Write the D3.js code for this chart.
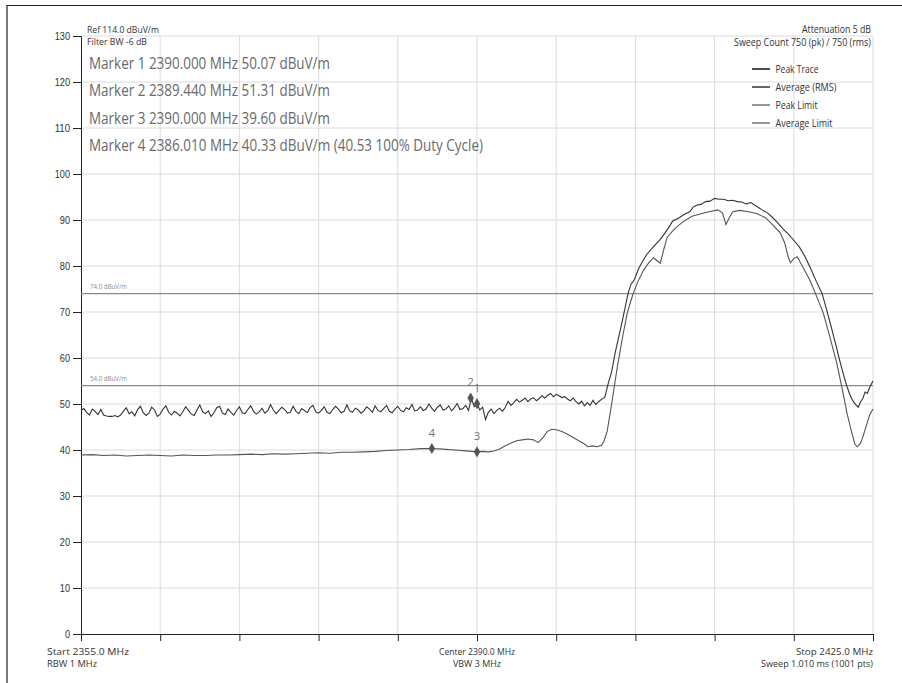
<!DOCTYPE html>
<html>
<head>
<meta charset="utf-8">
<script src="https://cdn.jsdelivr.net/npm/d3@7"></script>
<style>
  html, body { margin: 0; padding: 0; background: #fff; }
  svg { display: block; font-family: "Open Sans", "Noto Sans", sans-serif; }
</style>
</head>
<body>
<div id="chart"></div>
<script>
const yTicks = [0, 10, 20, 30, 40, 50, 60, 70, 80, 90, 100, 110, 120, 130];
const xTicks = [2355, 2362, 2369, 2376, 2383, 2390, 2397, 2404, 2411, 2418, 2425];

// peak trace, noise floor part: 0.25 MHz steps from 2355 MHz
const peakStart = 2355, peakStep = 0.25;
const peakFloor = [
  48.6, 49.0, 48.2, 47.6, 48.9, 48.4, 47.7, 48.8, 47.6, 47.4, 47.3, 47.3, 47.5, 47.2, 47.6, 48.4, 49.2, 47.9, 48.3, 47.4,
  48.8, 49.5, 48.1, 47.5, 48.0, 49.3, 48.7, 47.3, 47.8, 48.9, 49.6, 48.2, 47.6, 48.4, 48.0, 47.4, 48.3, 49.4, 48.6, 47.8,
  47.5, 48.7, 49.8, 48.3, 47.9, 48.5, 47.3, 48.1, 49.2, 49.5, 48.0, 47.7, 48.9, 48.2, 47.6, 48.6, 49.4, 48.1, 47.9, 48.8,
  49.6, 48.4, 47.8, 48.3, 49.1, 48.0, 48.5, 49.9, 48.7, 47.9, 48.6, 49.3, 48.8, 48.0, 48.2, 49.5, 48.4, 47.9, 49.0, 48.6,
  48.1, 49.2, 49.7, 48.3, 48.0, 48.6, 49.4, 48.2, 47.9, 48.8, 49.5, 48.9, 48.1, 48.4, 49.8, 48.5, 48.2, 49.1, 48.7, 48.0,
  48.5, 49.4, 48.9, 48.2, 49.6, 48.6, 48.3, 49.0, 49.7, 48.4, 48.1, 48.9, 49.5, 48.6, 48.3, 49.2, 48.8, 49.9, 48.5, 48.7,
  49.4, 48.6, 48.9, 50.0, 49.1, 48.4, 49.3, 49.8, 48.7, 48.9, 49.6, 48.5, 49.2, 50.1, 48.8, 49.0, 49.7, 48.6, 51.3, 49.4,
  50.1, 48.7, 49.3, 46.6, 48.2, 48.9, 47.9, 48.6, 49.1, 48.4, 49.3, 50.6, 49.7, 50.3, 51.0, 50.4, 50.8, 51.3, 50.5, 51.1,
  51.4, 50.7, 51.2, 51.8, 51.3, 51.9, 52.3, 51.6, 52.1, 51.8, 51.4, 51.6, 51.1, 50.7, 51.3, 50.5, 50.0, 50.6, 49.6, 50.3,
  49.7, 50.8, 49.9, 50.5, 51.0
];

// peak trace, emission part
const peakLobeFreq = [
  2401.3, 2401.6, 2401.9, 2402.2, 2402.8, 2403.35, 2403.6, 2403.9, 2404.3, 2404.7, 2405.0, 2405.6, 2406.2, 2406.8,
  2407.3, 2407.8, 2408.3, 2408.8, 2409.1, 2409.4, 2409.8, 2410.2, 2410.6, 2411.0, 2411.4, 2411.8, 2412.2, 2412.6,
  2413.0, 2413.4, 2413.8, 2414.2, 2414.7, 2415.2, 2415.7, 2416.1, 2416.5, 2417.0, 2417.5, 2418.0, 2418.5, 2419.0,
  2419.5, 2420.0, 2420.5, 2420.9, 2421.3, 2421.7, 2422.0, 2422.3, 2422.6, 2422.9, 2423.1, 2423.3, 2423.5, 2423.7,
  2423.9, 2424.1, 2424.3, 2424.5, 2424.7, 2424.85, 2425.0
];
const peakLobe = [
  51.5, 54.5, 57.0, 61.0, 67.6, 74.0, 76.0, 77.0, 79.5, 81.3, 82.5, 84.2, 85.8, 87.8,
  89.8, 90.4, 91.2, 91.8, 92.8, 93.2, 93.4, 94.0, 94.1, 94.7, 94.5, 94.5, 94.2, 94.3,
  94.0, 93.9, 93.5, 93.8, 93.0, 92.2, 91.5, 90.6, 89.6, 88.2, 87.0, 85.6, 84.1, 82.0,
  79.4, 76.6, 74.0, 70.5, 66.8, 63.0, 60.0, 57.2, 54.6, 52.4, 51.2, 50.4, 49.8, 49.3,
  50.5, 51.2, 52.6, 52.3, 53.6, 54.3, 55.0
];

// average (RMS) trace
const avgFreq = [
  2355, 2356, 2357, 2358, 2359, 2360, 2361, 2362, 2363, 2364, 2365, 2366, 2367, 2368, 2369, 2370,
  2371, 2372, 2373, 2374, 2375, 2376, 2377, 2378, 2379, 2380, 2381, 2382, 2383, 2384, 2385, 2386.01,
  2387, 2388, 2389, 2390, 2390.5, 2391, 2391.5, 2392, 2392.5, 2393, 2393.5, 2394, 2394.5, 2395,
  2395.4, 2395.8, 2396.2, 2396.6, 2397.0, 2397.5, 2398, 2398.5, 2399, 2399.5, 2399.8, 2400.2, 2400.6,
  2401.0, 2401.2, 2401.5, 2401.9, 2402.4, 2402.9, 2403.3, 2403.8, 2404.2, 2404.7, 2405.2, 2405.6,
  2405.9, 2406.2, 2406.5, 2406.8, 2407.5, 2408.2, 2409, 2410.3, 2411.3, 2411.7, 2412.0, 2412.3,
  2412.6, 2413.2, 2414, 2414.7, 2415.5, 2416.2, 2416.8, 2417.2, 2417.5, 2417.7, 2418.0, 2418.3,
  2418.8, 2419.4, 2420.0, 2420.6, 2421.2, 2421.8, 2422.3, 2422.7, 2423.1, 2423.4, 2423.6, 2423.9,
  2424.1, 2424.4, 2424.7, 2425
];
const avgVal = [
  38.9, 39.0, 38.8, 38.9, 38.7, 38.8, 38.9, 38.8, 38.7, 38.9, 38.8, 38.8, 38.9, 38.9, 39.0, 39.1,
  39.0, 39.2, 39.1, 39.2, 39.3, 39.4, 39.3, 39.5, 39.5, 39.6, 39.7, 39.9, 40.0, 40.1, 40.3, 40.33,
  40.2, 40.0, 39.8, 39.6, 39.7, 39.6, 39.8, 40.2, 40.9, 41.5, 42.0, 42.2, 42.4, 42.2,
  41.6, 42.6, 44.0, 44.5, 44.4, 44.0, 43.4, 42.7, 42.0, 41.3, 40.7, 40.9, 40.7,
  41.0, 41.8, 44.0, 50.0, 58.0, 65.0, 70.0, 74.0, 76.5, 79.0, 80.8, 81.8,
  81.2, 80.6, 83.5, 86.2, 88.2, 89.6, 90.8, 91.7, 92.2, 91.5, 89.0, 90.5,
  91.8, 92.1, 91.8, 91.4, 90.5, 88.8, 87.2, 85.0, 82.0, 80.7, 81.6, 82.0,
  79.8, 77.0, 73.5, 69.8, 64.5, 58.9, 53.0, 48.0, 44.0, 41.3, 40.7, 41.5,
  42.8, 45.2, 47.6, 48.9
];

const limits = [74.0, 54.0];
const limitLabels = ["74.0 dBuV/m", "54.0 dBuV/m"];

const markerIds = ["1", "2", "3", "4"];
const markerFreq = [2390.000, 2389.440, 2390.000, 2386.010];
const markerVal = [50.07, 51.31, 39.60, 40.33];
const markerLines = [
  "Marker 1 2390.000 MHz 50.07 dBuV/m",
  "Marker 2 2389.440 MHz 51.31 dBuV/m",
  "Marker 3 2390.000 MHz 39.60 dBuV/m",
  "Marker 4 2386.010 MHz 40.33 dBuV/m (40.53 100% Duty Cycle)"
];

const legendNames = ["Peak Trace", "Average (RMS)", "Peak Limit", "Average Limit"];
const legendColors = ["#111", "#333", "#777", "#777"];

// --- layout ---
const W = 902, H = 683;
const svg = d3.select("#chart").append("svg").attr("width", W).attr("height", H);

const x = d3.scaleLinear().domain([2355, 2425]).range([81, 873]);
const y = d3.scaleLinear().domain([0, 130]).range([634, 36]);

// text helper: the instrument font is narrow, so fit each string to its width
function txt(px, py, s, size, w, anchor, fill) {
  const t = svg.append("text").attr("x", px).attr("y", py)
    .attr("font-size", size).attr("fill", fill || "#333")
    .attr("text-anchor", anchor || "start").text(s);
  if (w) t.attr("textLength", w).attr("lengthAdjust", "spacingAndGlyphs");
  return t;
}

// frame of the screenshot
svg.append("path").attr("d", "M7,683V5.5H902").attr("fill", "none").attr("stroke", "#222").attr("stroke-width", 1.2);

// grid
const grid = svg.append("g");
grid.selectAll(".hg").data(yTicks.filter(d => d > 0)).enter().append("line")
  .attr("x1", x(2355)).attr("x2", x(2425))
  .attr("y1", d => y(d)).attr("y2", d => y(d))
  .attr("stroke", "#dcdcdc").attr("stroke-width", 1);
grid.selectAll(".vg").data(xTicks.slice(1)).enter().append("line")
  .attr("x1", d => x(d)).attr("x2", d => x(d))
  .attr("y1", y(130)).attr("y2", y(0))
  .attr("stroke", "#dcdcdc").attr("stroke-width", 1);

// axes
const yAxis = d3.axisLeft(y).tickValues(yTicks).tickSize(8).tickPadding(3);
const gy = svg.append("g").attr("transform", `translate(${x(2355)},0)`).call(yAxis);
gy.select(".domain").attr("stroke", "#222");
gy.selectAll(".tick line").attr("stroke", "#222");
gy.selectAll("text").attr("font-size", 10.5).attr("fill", "#333")
  .each(function () {
    d3.select(this).attr("textLength", this.textContent.length * 5.1).attr("lengthAdjust", "spacingAndGlyphs");
  });

const xAxis = d3.axisBottom(x).tickValues(xTicks).tickSize(7).tickFormat("");
const gx = svg.append("g").attr("transform", `translate(0,${y(0)})`).call(xAxis);
gx.select(".domain").attr("stroke", "#222");
gx.selectAll(".tick line").attr("stroke", "#222");

// limit lines
limits.forEach((v, i) => {
  svg.append("line").attr("x1", x(2355)).attr("x2", x(2425))
    .attr("y1", y(v)).attr("y2", y(v))
    .attr("stroke", "#8a8a8a").attr("stroke-width", 1.4);
  txt(90, y(v) - 5, limitLabels[i], 6.5, 37, "start", "#8c8c8c");
});

// traces
const peakData = peakFloor.map((v, i) => [peakStart + i * peakStep, v])
  .concat(peakLobe.map((v, i) => [peakLobeFreq[i], v]));
const avgData = avgVal.map((v, i) => [avgFreq[i], v]);
const line = d3.line().x(d => x(d[0])).y(d => y(d[1]));

svg.append("path").datum(avgData).attr("d", line)
  .attr("fill", "none").attr("stroke", "#555").attr("stroke-width", 1.1);
svg.append("path").datum(peakData).attr("d", line)
  .attr("fill", "none").attr("stroke", "#333").attr("stroke-width", 1.1);

// markers
const diamond = d3.symbol().type(d3.symbolDiamond).size(36);
markerIds.forEach((id, i) => {
  svg.append("path").attr("d", diamond)
    .attr("transform", `translate(${x(markerFreq[i])},${y(markerVal[i])})`)
    .attr("fill", "#555");
  txt(x(markerFreq[i]), y(markerVal[i]) - 11.5, id, 11.5, null, "middle", "#777");
});

// header texts
txt(87, 32.5, "Ref 114.0 dBuV/m", 9.5, 72);
txt(87, 44.5, "Filter BW -6 dB", 9.5, 60);

const markerLineWidths = [241, 241, 241, 394];
markerLines.forEach((t, i) => {
  txt(89, 69 + i * 27.3, t, 16.5, markerLineWidths[i], "start", "#6a6a6a");
});

txt(871, 32.5, "Attenuation 5 dB", 10, 69, "end");
txt(871, 45.5, "Sweep Count 750 (pk) / 750 (rms)", 10, 137, "end");

// legend
const legendWidths = [43, 61, 42, 57];
legendNames.forEach((n, i) => {
  const ly = 69 + i * 18;
  svg.append("line").attr("x1", 752).attr("x2", 770).attr("y1", ly).attr("y2", ly)
    .attr("stroke", legendColors[i]).attr("stroke-width", 1.5);
  txt(775.5, ly + 3.5, n, 10, legendWidths[i]);
});

// footer texts
txt(47, 654.5, "Start 2355.0 MHz", 9.5, 82);
txt(47, 666.5, "RBW 1 MHz", 9.5, 50);
txt(x(2390), 654.5, "Center 2390.0 MHz", 9.5, 76, "middle");
txt(x(2390), 666.5, "VBW 3 MHz", 9.5, 48, "middle");
txt(x(2425), 654.5, "Stop 2425.0 MHz", 9.5, 77, "end");
txt(x(2425), 666.5, "Sweep 1.010 ms (1001 pts)", 9.5, 112, "end");
</script>
</body>
</html>
